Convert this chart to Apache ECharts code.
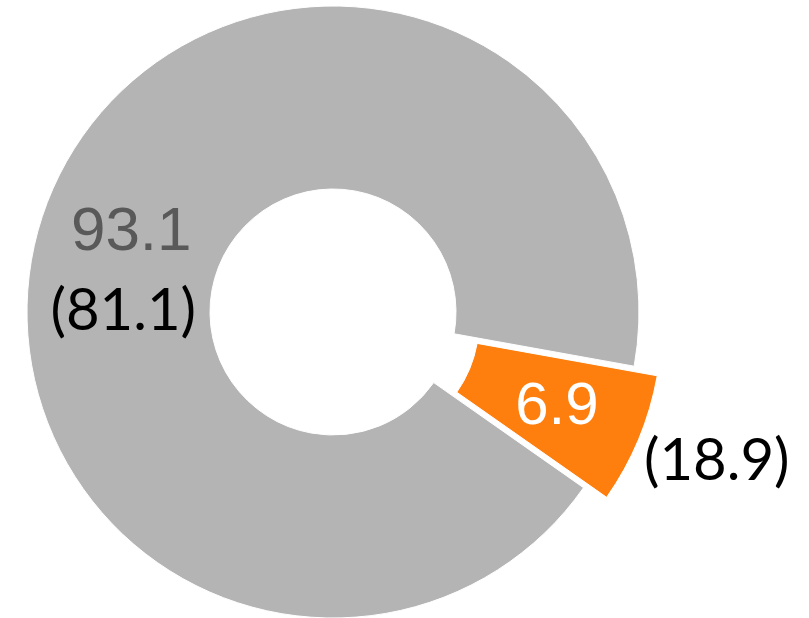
<!DOCTYPE html>
<html>
<head>
<meta charset="utf-8">
<script src="https://cdn.jsdelivr.net/npm/echarts@6/dist/echarts.min.js"></script>
<style>
html, body { margin: 0; padding: 0; background: #ffffff; }
#c { width: 809px; height: 618px; }
</style>
</head>
<body>
<div id="c"></div>
<script>
// ---- data ----
const sliceNames = ['Segment', 'Rest'];
const currentValues = [6.9, 93.1];
const priorValues = [18.9, 81.1];

// ---- styles ----
const SLICE_COLORS = ['#FF7F0E', '#B4B4B4'];
const VALUE_COLORS = ['#FFFFFF', '#595959'];
const VALUE_SIZES = [60, 62];
const VALUE_SHIFT = [[0, 2], [-1, 5]];
const PRIOR_SHIFT = [[183, 66], [-9, 83]];

const chart = echarts.init(document.getElementById('c'), null, { renderer: 'canvas' });
const center = [333, 312];
const radius = [123, 306];
const startAngle = -10.2;

const mainData = sliceNames.map((n, i) => ({
  name: n,
  value: currentValues[i],
  selected: i === 0,
  itemStyle: { color: SLICE_COLORS[i] },
  label: { color: VALUE_COLORS[i], fontSize: VALUE_SIZES[i] },
  select: { itemStyle: { color: SLICE_COLORS[i] }, label: { color: VALUE_COLORS[i], fontSize: VALUE_SIZES[i] } }
}));
const priorData = sliceNames.map((n, i) => ({ name: n, value: currentValues[i] }));

const option = {
  animation: false,
  backgroundColor: '#ffffff',
  series: [
    {
      type: 'pie',
      center: center,
      radius: radius,
      startAngle: startAngle,
      clockwise: true,
      selectedMode: 'single',
      selectedOffset: 25,
      avoidLabelOverlap: false,
      itemStyle: { borderColor: '#ffffff', borderWidth: 1 },
      label: {
        show: true,
        position: 'inside',
        fontFamily: 'Arial, "Liberation Sans", sans-serif',
        formatter: p => currentValues[p.dataIndex].toFixed(1)
      },
      labelLine: { show: false },
      emphasis: { disabled: true },
      labelLayout: p => ({ dx: VALUE_SHIFT[p.dataIndex][0], dy: VALUE_SHIFT[p.dataIndex][1] }),
      data: mainData,
      z: 2
    },
    {
      type: 'pie',
      center: center,
      radius: radius,
      startAngle: startAngle,
      clockwise: true,
      silent: true,
      avoidLabelOverlap: false,
      itemStyle: { color: 'rgba(0,0,0,0)', borderWidth: 0 },
      label: {
        show: true,
        position: 'inside',
        color: '#000000',
        fontSize: 58,
        fontFamily: 'Lato, "Open Sans", sans-serif',
        formatter: p => '(' + priorValues[p.dataIndex].toFixed(1) + ')'
      },
      labelLine: { show: false },
      emphasis: { disabled: true },
      labelLayout: p => ({ dx: PRIOR_SHIFT[p.dataIndex][0], dy: PRIOR_SHIFT[p.dataIndex][1] }),
      data: priorData,
      z: 3
    }
  ]
};
chart.setOption(option);
</script>
</body>
</html>
